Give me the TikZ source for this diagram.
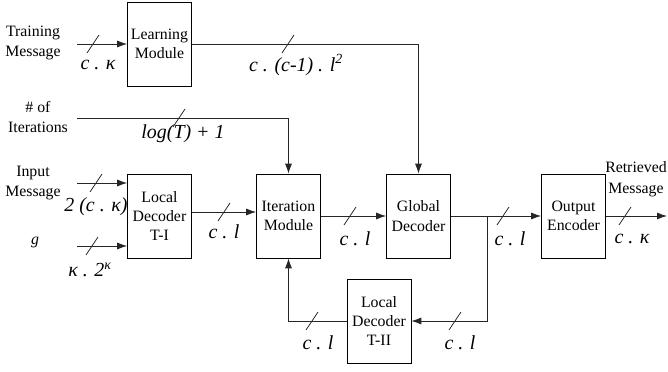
\documentclass[tikz,border=0pt]{standalone}
\usepackage{fontspec}
\setmainfont{Liberation Serif}
\usetikzlibrary{arrows.meta}
\usetikzlibrary{positioning}

\tikzset{
  block/.style = {draw, black, line width=0.6pt, minimum width=1.92cm, minimum height=2.52cm,
                  inner sep=0pt, align=center, font=\fontsize{13.5}{16.5}\selectfont},
  txt/.style   = {inner sep=0pt, align=center, font=\fontsize{13.5}{17.5}\selectfont},
  bus/.style   = {inner sep=0pt, font=\fontsize{17}{20}\selectfont\itshape},
  wire/.style  = {line width=0.7pt, draw=black!85},
}

\begin{document}
\begin{tikzpicture}[x=0.03cm, y=-0.03cm, >={Latex[length=3mm,width=2.1mm]}]
	\useasboundingbox (0,0) rectangle (668,372);
	% blocks
	\node[block] (learn)  at (159.5,44)  {Learning\\Module};
	\node[block] (dect1)  at (159.5,216) {Local\\Decoder\\T-I};
	\node[block] (iter)   at (288.5,216) {Iteration\\Module};
	\node[block] (glob)   at (418.5,216) {Global\\Decoder};
	\node[block] (outenc) at (573.5,216) {Output\\Encoder};
	\node[block] (dect2)  at (379,321)   {Local\\Decoder\\T-II};
	% outside texts
	\node[txt] (train) at (33,43)   {Training\\Message};
	\node[txt] (iters) at (38,117)  {\# of\\Iterations};
	\node[txt] (input) at (33,183)  {Input\\Message};
	\node[txt] (gin)   at (35,242)  {\textit{g}};
	\node[txt] (retr)  at (636,179) {Retrieved\\Message};
	% free ends
	\coordinate (trainend) at (77,44);
	\coordinate (itersend) at (77,118);
	\coordinate (inputend) at (77,183);
	\coordinate (gend)     at (77,246);
	\coordinate (outend)   at (667,216);
	\coordinate (tap)      at (487,216);
	% connectors
	\draw[wire, ->] (trainend) -- (learn);
	\draw[wire, ->] (learn) -| (glob);
	\draw[wire, ->] (itersend) -| (iter);
	\draw[wire, ->] (inputend) -- (inputend -| dect1.west);
	\draw[wire, ->] (gend) -- (gend -| dect1.west);
	\draw[wire, ->] ([yshift=0.12cm]dect1.east) -- ([yshift=0.12cm]iter.west);
	\draw[wire, ->] (iter) -- (glob);
	\draw[wire, ->] (glob) -- (outenc);
	\draw[wire, ->] (outenc) -- (outend);
	\draw[wire, ->] (tap) |- (dect2);
	\draw[wire, ->] (dect2) -| (iter);
	% bus width marks
	\foreach \sx/\sy in {93/44, 288/44, 179/118, 96/183, 92/246, 224/212, 350/216, 503/216, 625/216, 312/321, 455/321}
		\draw[wire] (\sx,\sy) +(-6,9) -- +(6,-9);
	% bus widths
	\node[bus] (ltrain) at (98,65)   {c . κ};
	\node[bus] (llearn) at (296,65)  {c . (c-1) . l\textsuperscript{2}};
	\node[bus] (liters) at (183,134) {log(T) + 1};
	\node[bus] (linput) at (96,207)  {2 (c . κ)};
	\node[bus] (lgin)   at (90,270)  {κ . 2\textsuperscript{κ}};
	\node[bus] (ldec1)  at (224,232) {c . l};
	\node[bus] (liter)  at (355,239) {c . l};
	\node[bus] (lglob)  at (510,239) {c . l};
	\node[bus] (lout)   at (632,239) {c . κ};
	\node[bus] (lfbl)   at (318,343) {c . l};
	\node[bus] (lfbr)   at (460,343) {c . l};
\end{tikzpicture}
\end{document}
